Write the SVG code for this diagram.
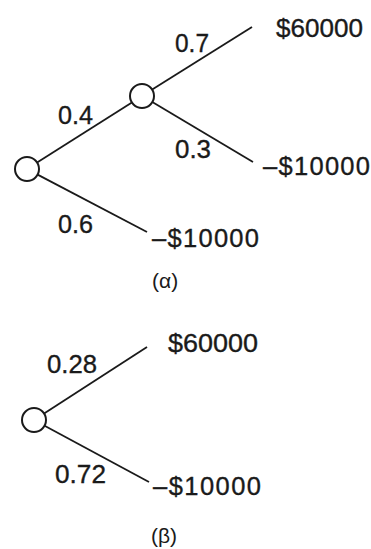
<svg xmlns="http://www.w3.org/2000/svg" width="371" height="549" viewBox="0 0 371 549">
<style>
.node{fill:#fff;stroke:#1a1a1a;stroke-width:2}
.edge{stroke:#1a1a1a;stroke-width:1.8;fill:none}
.t{font-family:"Liberation Sans",Arial,sans-serif;font-size:25.5px;fill:#1a1a1a;stroke:#1a1a1a;stroke-width:0.35}
.cap{font-family:"Liberation Sans",Arial,sans-serif;font-size:21px;fill:#1a1a1a}
</style>
<rect width="371" height="549" fill="#fff"/>
<g id="connectors">
<line class="edge" x1="37.1" y1="162.6" x2="131.9" y2="102.4"/>
<line class="edge" x1="152.2" y1="89.6" x2="252" y2="27"/>
<line class="edge" x1="152.3" y1="102.1" x2="253" y2="162"/>
<line class="edge" x1="37.6" y1="174.6" x2="147" y2="232"/>
<line class="edge" x1="44.1" y1="413.5" x2="147" y2="347"/>
<line class="edge" x1="44.6" y1="425.7" x2="149" y2="482"/>
</g>
<g id="a-root"><circle class="node" cx="27" cy="169" r="12"/></g>
<g id="a-mid"><circle class="node" cx="142" cy="96" r="12"/></g>
<g id="b-root"><circle class="node" cx="34" cy="420" r="12"/></g>
<g id="labels">
<text class="t" x="175" y="52" textLength="34" lengthAdjust="spacingAndGlyphs">0.7</text>
<text class="t" x="58" y="124" textLength="35" lengthAdjust="spacingAndGlyphs">0.4</text>
<text class="t" x="175" y="158" textLength="36" lengthAdjust="spacingAndGlyphs">0.3</text>
<text class="t" x="58" y="233" textLength="35" lengthAdjust="spacingAndGlyphs">0.6</text>
<text class="t" x="47" y="373" textLength="50" lengthAdjust="spacingAndGlyphs">0.28</text>
<text class="t" x="55" y="483" textLength="51" lengthAdjust="spacingAndGlyphs">0.72</text>
</g>
<g id="a-out1"><text class="t" x="276" y="37" textLength="87" lengthAdjust="spacingAndGlyphs">$60000</text></g>
<g id="a-out2"><text class="t" x="263" y="175" textLength="107" lengthAdjust="spacing">–$10000</text></g>
<g id="a-out3"><text class="t" x="152" y="247" textLength="107" lengthAdjust="spacing">–$10000</text></g>
<g id="b-out1"><text class="t" x="168" y="352" textLength="90" lengthAdjust="spacingAndGlyphs">$60000</text></g>
<g id="b-out2"><text class="t" x="153" y="495" textLength="108" lengthAdjust="spacing">–$10000</text></g>
<text class="cap" x="152" y="288">(α)</text>
<text class="cap" x="151" y="543">(β)</text>
</svg>
